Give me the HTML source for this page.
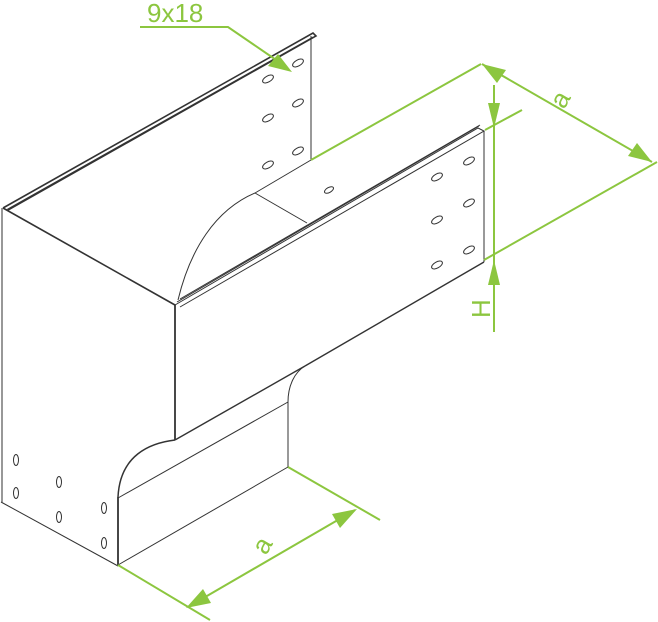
<!DOCTYPE html>
<html><head><meta charset="utf-8"><style>html,body{margin:0;padding:0;background:#fff}svg{display:block}</style></head>
<body>
<svg width="658" height="622" viewBox="0 0 658 622" xmlns="http://www.w3.org/2000/svg">
<g fill="none" stroke="#333" stroke-width="1">
  <!-- left wall top rim -->
  <path d="M3,208 L313,33 L316,36 L8,210" stroke-width="1.6"/>
  <line x1="6" y1="210" x2="313" y2="37"/>
  <line x1="311" y1="36" x2="311" y2="160"/>
  <!-- left wall front -->
  <line x1="2" y1="208" x2="2" y2="502" stroke="#777" stroke-width="1.5"/>
  <line x1="3" y1="208" x2="175" y2="305" stroke-width="1.6"/>
  <line x1="1" y1="502" x2="118" y2="566"/>
  <!-- floor inner seam -->
  <path d="M178,300 C190,250 215,210 255,193"/>
  <line x1="255" y1="193" x2="311" y2="160"/>
  <line x1="255" y1="193" x2="307" y2="223"/>
  <!-- right panel rim -->
  <path d="M175,305 L478,128 L484,131 L180,307"/>
  <line x1="177" y1="302" x2="479" y2="126"/>
  <line x1="180" y1="299" x2="480" y2="125"/>
  <line x1="484" y1="131" x2="484" y2="262"/>
  <line x1="484" y1="262" x2="305" y2="366" stroke-width="1.4"/>
  <line x1="175" y1="305" x2="175" y2="440" stroke-width="1.8"/>
  <line x1="175" y1="440" x2="305" y2="366" stroke-width="1.4"/>
  <!-- front lower panel -->
  <path d="M175,440 C150,443 120,455 118,497" stroke-width="1.5"/>
  <path d="M305,366 C295,372 288,385 288,402"/>
  <line x1="118" y1="497" x2="118" y2="565" stroke-width="1.8"/>
  <line x1="288" y1="402" x2="288" y2="467"/>
  <line x1="118" y1="498" x2="288" y2="402"/>
  <line x1="118" y1="565" x2="288" y2="467"/>
</g>
<!-- holes -->
<g fill="none" stroke="#333" stroke-width="1">
  <g transform="rotate(-30)">
  </g>
  <ellipse cx="268" cy="79" rx="6" ry="3" transform="rotate(-30 268 79)"/>
  <ellipse cx="298" cy="63" rx="6" ry="3" transform="rotate(-30 298 63)"/>
  <ellipse cx="268" cy="118" rx="6" ry="3" transform="rotate(-30 268 118)"/>
  <ellipse cx="298" cy="103" rx="6" ry="3" transform="rotate(-30 298 103)"/>
  <ellipse cx="268" cy="165" rx="6" ry="3" transform="rotate(-30 268 165)"/>
  <ellipse cx="298" cy="151" rx="6" ry="3" transform="rotate(-30 298 151)"/>
  <ellipse cx="329" cy="190" rx="5" ry="2.5" transform="rotate(-30 329 190)"/>
  <ellipse cx="437" cy="177" rx="6" ry="3" transform="rotate(-30 437 177)"/>
  <ellipse cx="469" cy="161" rx="6" ry="3" transform="rotate(-30 469 161)"/>
  <ellipse cx="437" cy="220" rx="6" ry="3" transform="rotate(-30 437 220)"/>
  <ellipse cx="469" cy="203" rx="6" ry="3" transform="rotate(-30 469 203)"/>
  <ellipse cx="437" cy="265" rx="6" ry="3" transform="rotate(-30 437 265)"/>
  <ellipse cx="469" cy="250" rx="6" ry="3" transform="rotate(-30 469 250)"/>
  <ellipse cx="16" cy="460" rx="2.5" ry="5.5"/>
  <ellipse cx="16" cy="493" rx="2.5" ry="5.5"/>
  <ellipse cx="59" cy="482" rx="2.5" ry="5.5"/>
  <ellipse cx="59" cy="517" rx="2.5" ry="5.5"/>
  <ellipse cx="104" cy="508" rx="2.5" ry="5.5"/>
  <ellipse cx="104" cy="543" rx="2.5" ry="5.5"/>
</g>
<!-- green dimensions -->
<g stroke="#8cc63f" stroke-width="2" fill="none">
  <polyline points="140,27 228,27 282,64"/>
  <line x1="311" y1="160" x2="481" y2="64"/>
  <line x1="485" y1="130" x2="522" y2="110"/>
  <line x1="484" y1="260" x2="657" y2="162"/>
  <line x1="482" y1="64" x2="652" y2="162"/>
  <line x1="494" y1="85" x2="494" y2="332"/>
  <line x1="288" y1="467" x2="380" y2="520"/>
  <line x1="118" y1="565" x2="210" y2="620"/>
  <line x1="188" y1="607" x2="355" y2="510"/>
</g>
<g fill="#8cc63f">
  <polygon points="292,72 268,66 278,54"/>
  <polygon points="482,64 506,70 497,83"/>
  <polygon points="652,162 628,156 637,143"/>
  <polygon points="494,128 488,103 500,103"/>
  <polygon points="494,260 488,285 500,285"/>
  <polygon points="357,509 340,528 332,514"/>
  <polygon points="186,608 203,589 211,603"/>
</g>
<g fill="#8cc63f" font-family="Liberation Sans, sans-serif">
  <text x="147" y="22" font-size="26">9x18</text>
  <text x="0" y="0" font-size="26" transform="translate(564,110) rotate(-60)">a</text>
  <text x="0" y="0" font-size="26" transform="translate(490,318) rotate(-90)">H</text>
  <text x="0" y="0" font-size="26" transform="translate(266,556) rotate(-60)">a</text>
</g>
</svg>
</body></html>
